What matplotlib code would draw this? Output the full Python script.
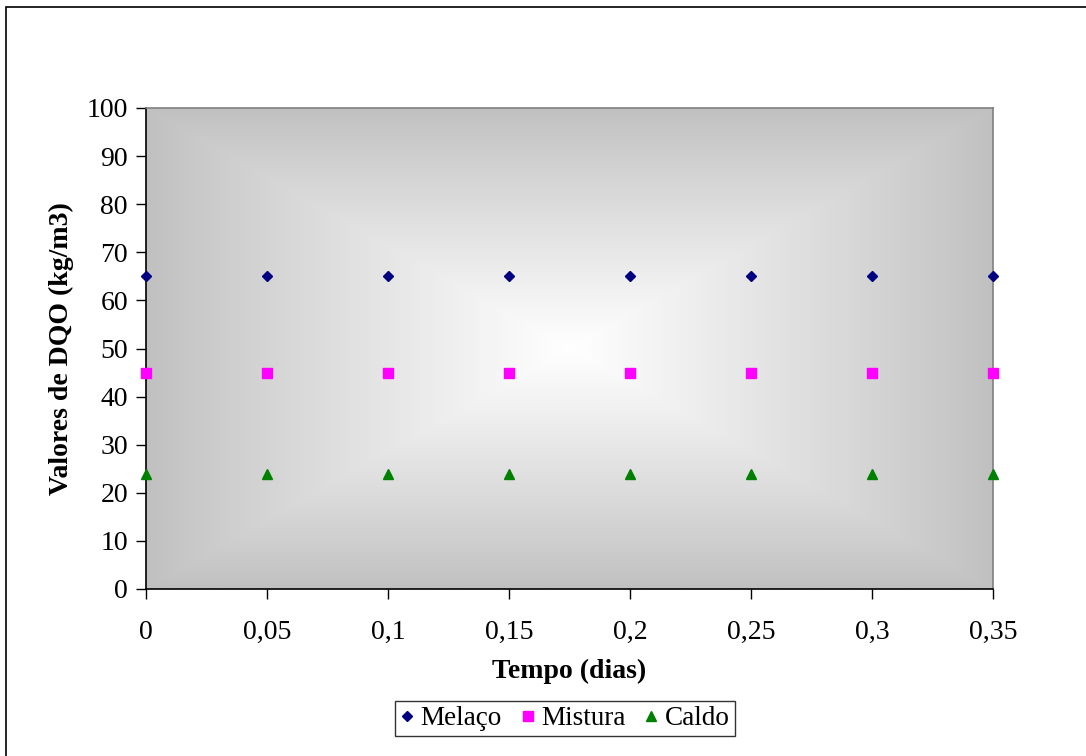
import numpy as np
import matplotlib
matplotlib.use("Agg")
import matplotlib.pyplot as plt
from matplotlib.patches import Rectangle
from matplotlib.colors import LinearSegmentedColormap

# Data
tempo = [0, 0.05, 0.1, 0.15, 0.2, 0.25, 0.3, 0.35]
melaco = [65, 65, 65, 65, 65, 65, 65, 65]
mistura = [45, 45, 45, 45, 45, 45, 45, 45]
caldo = [24, 24, 24, 24, 24, 24, 24, 24]
xticks = [0, 0.05, 0.1, 0.15, 0.2, 0.25, 0.3, 0.35]
xticklabels = ["0", "0,05", "0,1", "0,15", "0,2", "0,25", "0,3", "0,35"]
yticks = list(range(0, 101, 10))

plt.rcParams['font.family'] = ['Liberation Serif', 'DejaVu Serif']

W, H = 1086, 756
fig = plt.figure(figsize=(W / 100, H / 100), dpi=100)
fig.patch.set_facecolor('white')

# outer border (right/bottom edges cropped off)
fig.add_artist(Rectangle((6 / W, -0.01), 1.1, 1 - 7 / H + 0.01, transform=fig.transFigure,
                         fill=False, edgecolor='black', linewidth=1.2))

left, right, top, bottom = 146, 993, 108, 589
ax = fig.add_axes([left / W, 1 - bottom / H, (right - left) / W, (bottom - top) / H])

# rectangular "from center" gradient background
nx, ny = 400, 300
u = np.linspace(-1, 1, nx)
v = np.linspace(-1, 1, ny)
U, V = np.meshgrid(u, v)
T = 1 - (1 - np.maximum(np.abs(U), np.abs(V))) ** 0.9
cmap = LinearSegmentedColormap.from_list('g', ['#ffffff', '#c0c0c0'])
ax.imshow(T, cmap=cmap, vmin=0, vmax=1, extent=[0, 0.35, 0, 100], aspect='auto',
          zorder=0, interpolation='bilinear')

ax.plot(tempo, melaco, linestyle='none', marker='D', markersize=5.5, color='#000080',
        label='Melaço', clip_on=False, zorder=3)
ax.plot(tempo, mistura, linestyle='none', marker='s', markersize=6.5, color='#ff00ff',
        label='Mistura', clip_on=False, zorder=3)
ax.plot(tempo, caldo, linestyle='none', marker='^', markersize=7, color='#008000',
        label='Caldo', clip_on=False, zorder=3)

ax.set_xlim(0, 0.35)
ax.set_ylim(0, 100)
ax.set_xticks(xticks)
ax.set_xticklabels(xticklabels)
ax.set_yticks(yticks)
ax.tick_params(axis='both', direction='out', length=7, width=1, labelsize=20, color='black')
ax.tick_params(axis='x', pad=15)
ax.tick_params(axis='y', pad=6)

for s in ['top', 'right']:
    ax.spines[s].set_color('#808080')
    ax.spines[s].set_linewidth(1.2)
for s in ['left', 'bottom']:
    ax.spines[s].set_color('black')
    ax.spines[s].set_linewidth(1.2)

ax.set_xlabel('Tempo (dias)', fontsize=20, fontweight='bold', labelpad=10)
ax.set_ylabel('Valores de DQO (kg/m3)', fontsize=20, fontweight='bold', labelpad=9)

leg = fig.legend(loc='center', bbox_to_anchor=(565 / W, 1 - 718.5 / H), ncol=3,
                 fontsize=19.5, frameon=True, fancybox=False, edgecolor='black',
                 handlelength=0.5, handletextpad=0.25, columnspacing=0.7,
                 borderpad=0.2, borderaxespad=0)
leg.get_frame().set_linewidth(1.0)

fig.savefig('out.png', dpi=100)
